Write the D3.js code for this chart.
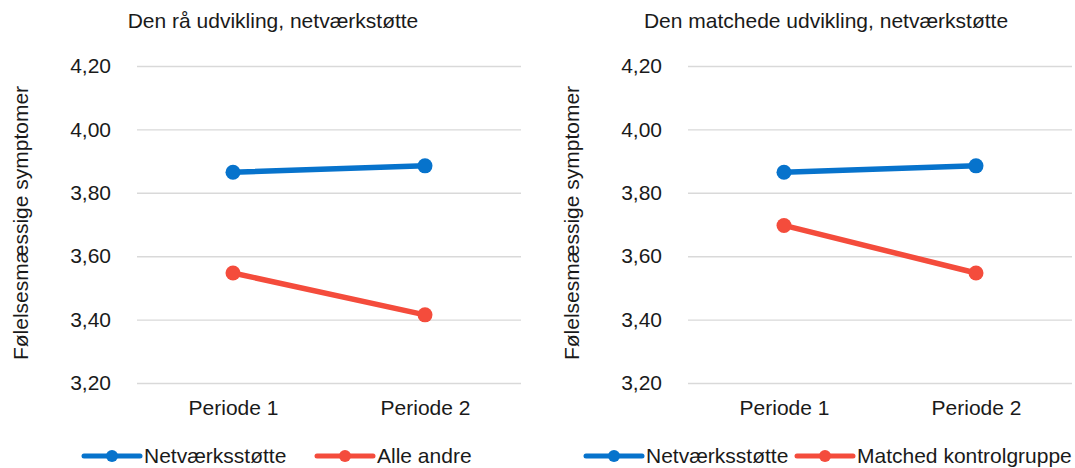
<!DOCTYPE html>
<html>
<head>
<meta charset="utf-8">
<script src="https://cdn.jsdelivr.net/npm/d3@7"></script>
<style>
  body { margin: 0; background: #fff; }
  svg { font-family: "Liberation Sans", Arial, sans-serif; }
  .grid line { stroke: #d9d9d9; stroke-width: 1.4; }
</style>
</head>
<body>
<div id="chart"></div>
<script>
// data
const periods = ["Periode 1", "Periode 2"];
const yTicks = [3.2, 3.4, 3.6, 3.8, 4.0, 4.2];
const rawNetvaerk = [3.865, 3.885];
const rawAndre = [3.547, 3.415];
const matchedNetvaerk = [3.865, 3.885];
const matchedKontrol = [3.697, 3.547];
const panelTitles = ["Den rå udvikling, netværkstøtte", "Den matchede udvikling, netværkstøtte"];
const seriesNames = [["Netværksstøtte", "Alle andre"], ["Netværksstøtte", "Matched kontrolgruppe"]];
const yTitle = "Følelsesmæssige symptomer";

const width = 1075, height = 468;
const blue = "#0773cc", red = "#f44c3c";
const fontSize = 21;

const da = d3.formatLocale({decimal: ",", thousands: ".", grouping: [3], currency: ["", " kr."]});
const fmt = da.format(".2f");

const svg = d3.select("#chart").append("svg")
  .attr("width", width)
  .attr("height", height);

const panels = [
  {left: 137, right: 521, center: 273, yLabelX: 28, legendX: [84, 317],
   title: panelTitles[0], names: seriesNames[0], series: [rawNetvaerk, rawAndre]},
  {left: 688, right: 1072, center: 826, yLabelX: 579, legendX: [586, 797],
   title: panelTitles[1], names: seriesNames[1], series: [matchedNetvaerk, matchedKontrol]}
];

const plotTop = 66, plotBottom = 383;
const colors = [blue, red];

panels.forEach(function(p) {
  const g = svg.append("g");

  const x = d3.scalePoint().domain(periods).range([p.left, p.right]).padding(0.5);
  const y = d3.scaleLinear().domain([3.2, 4.2]).range([plotBottom, plotTop]);

  // gridlines + y tick labels
  const yAxis = d3.axisLeft(y)
    .tickValues(yTicks)
    .tickFormat(fmt)
    .tickSizeInner(-(p.right - p.left))
    .tickSizeOuter(0)
    .tickPadding(26);

  const ya = g.append("g")
    .attr("class", "grid")
    .attr("transform", "translate(" + p.left + ",0)")
    .call(yAxis);
  ya.select(".domain").remove();
  ya.selectAll("text")
    .style("font-size", fontSize + "px")
    .attr("fill", "#1a1a1a");

  // category labels
  const xa = g.append("g")
    .attr("transform", "translate(0," + plotBottom + ")")
    .call(d3.axisBottom(x).tickSize(0).tickPadding(17));
  xa.select(".domain").remove();
  xa.selectAll("text")
    .style("font-size", fontSize + "px")
    .attr("fill", "#1a1a1a");

  // titles
  g.append("text")
    .text(p.title)
    .attr("x", p.center)
    .attr("y", 28)
    .attr("text-anchor", "middle")
    .attr("fill", "#1a1a1a")
    .style("font-size", fontSize + "px");

  g.append("text")
    .text(yTitle)
    .attr("transform", "rotate(-90)")
    .attr("x", -223)
    .attr("y", p.yLabelX)
    .attr("text-anchor", "middle")
    .attr("fill", "#1a1a1a")
    .style("font-size", fontSize + "px");

  // lines and markers
  const line = d3.line()
    .x((d, i) => x(periods[i]))
    .y(d => y(d));

  p.series.forEach(function(vals, si) {
    g.append("path")
      .datum(vals)
      .attr("d", line)
      .attr("fill", "none")
      .attr("stroke", colors[si])
      .attr("stroke-width", 5.5)
      .attr("stroke-linecap", "round");

    g.selectAll(null)
      .data(vals)
      .enter()
      .append("circle")
      .attr("cx", (d, i) => x(periods[i]))
      .attr("cy", d => y(d))
      .attr("r", 7.5)
      .attr("fill", colors[si]);
  });

  // legend
  p.names.forEach(function(name, si) {
    const lx = p.legendX[si];
    const lg = g.append("g");
    lg.append("line")
      .attr("x1", lx).attr("x2", lx + 56)
      .attr("y1", 456).attr("y2", 456)
      .attr("stroke", colors[si])
      .attr("stroke-width", 5)
      .attr("stroke-linecap", "round");
    lg.append("circle")
      .attr("cx", lx + 28).attr("cy", 456)
      .attr("r", 6)
      .attr("fill", colors[si]);
    lg.append("text")
      .text(name)
      .attr("x", lx + 60)
      .attr("y", 463)
      .attr("fill", "#1a1a1a")
      .style("font-size", fontSize + "px");
  });
});
</script>
</body>
</html>
